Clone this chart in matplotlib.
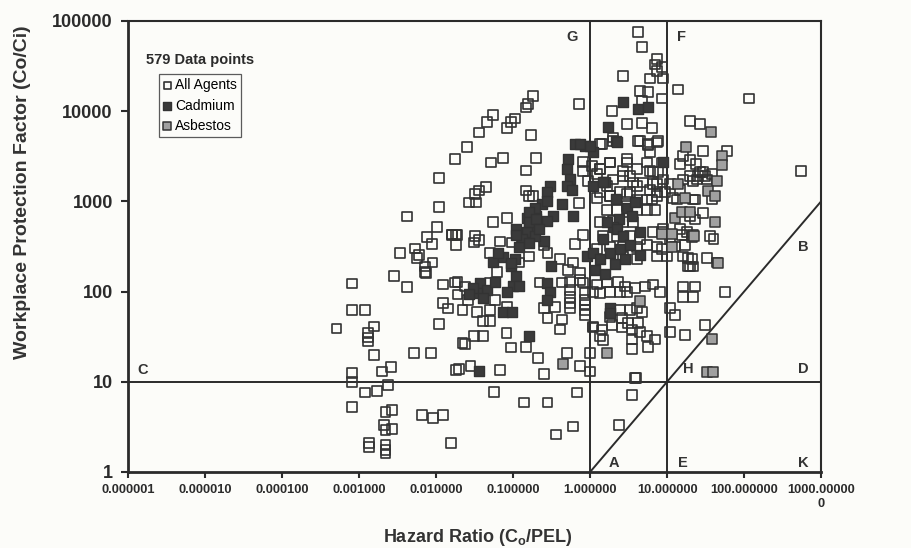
import matplotlib
matplotlib.use("Agg")
import matplotlib.pyplot as plt
from matplotlib.ticker import FixedLocator, FixedFormatter, NullLocator

plt.rcParams['font.family'] = ['Liberation Sans', 'DejaVu Sans']

# ---------------- data ----------------
all_x = [
    8.1e-4, 8.1e-4, 1.2e-3, 5.1e-4, 1.57e-3, 1.31e-3, 1.31e-3, 1.31e-3, 1.57e-3, 8.1e-4,
    8.1e-4, 2e-3, 2.6e-3, 2.4e-3, 1.2e-3, 1.7e-3, 8.1e-4, 2.2e-3, 2.7e-3, 2.1e-3,
    2.2e-3, 2.7e-3, 1.35e-3, 1.35e-3, 2.2e-3, 2.2e-3, 2.2e-3, 5.2e-3, 8.6e-3, 6.6e-3,
    9.2e-3, 1.23e-2, 1.55e-2, 2.85e-3, 4.2e-3, 7.4e-3, 1.23e-2, 1.78e-2, 1.23e-2, 1.42e-2,
    1.1e-2, 1.8e-2,
    1.78e-2, 1.1e-2, 1.1e-2, 4.2e-3, 1.03e-2, 7.6e-3, 8.9e-3, 1.6e-2, 1.8e-2, 1.8e-2,
    3.4e-3, 5.3e-3, 6.0e-3, 5.6e-3, 9e-3, 7.2e-3, 7.2e-3,
    0.182, 0.156, 0.148, 0.72, 0.055, 0.046, 0.036, 0.106, 0.094, 0.084,
    0.17, 0.025, 0.052, 0.074, 0.2, 0.148, 0.045, 0.036, 0.032, 0.027,
    0.033, 0.148, 0.055, 0.084, 0.016, 0.019, 0.032, 0.036, 0.031, 0.068,
    0.097, 0.16, 0.18, 0.28, 0.72, 0.81, 0.64, 0.81, 1.06, 0.8, 1.23,
    0.019, 0.024, 0.019, 0.026, 0.022, 0.034, 0.05, 0.041, 0.05, 0.058,
    0.083, 0.031, 0.041, 0.024, 0.082, 0.094, 0.148, 0.02, 0.028, 0.068,
    0.25, 0.21, 0.5, 0.74, 1.0, 1.0, 0.057, 0.68, 0.28, 0.43,
    0.41, 0.25, 0.35, 0.22, 0.43, 0.55, 0.55, 0.55, 0.55, 0.55,
    0.86, 0.86, 0.86, 0.86, 0.86, 0.81, 1.09, 1.09, 0.05, 0.062,
    0.05, 0.12, 0.16, 0.6, 0.52, 0.74, 0.74, 0.25, 0.28, 0.41,
    0.14, 0.28, 0.6, 0.36, 3.85, 3.5, 2.4, 0.022,
    4.2, 4.7, 7.4, 7.0, 8.6, 7.4, 8.9, 2.7, 6.0, 4.5,
    5.7, 8.6, 13.9, 116, 4.7, 1.93, 3.0, 4.7, 6.4, 19.9,
    26.8, 1.43, 1.99, 4.2, 5.7, 7.4, 29, 60, 16, 20,
    24, 29, 25, 550, 1.8, 3.0, 1.35, 5.5, 6.0, 7.6,
    8.9, 16, 21.7, 14.7, 33, 38, 2.7, 3.3, 4.1, 3.0,
    0.94, 1.23, 6.6, 7.4, 6.4, 1.66, 1.8, 2.2, 13.5, 21.7,
    9.4, 10.9, 20, 23, 29, 14.7, 18, 21, 36, 40,
    8.9, 10.9, 8.6, 10, 16, 21, 20,
    1.35, 2.0, 4.5, 5.7, 7.6, 6.0, 1.82, 3.0, 4.1, 6.6,
    8.6, 1.35, 2.0, 2.7, 3.6, 4.9, 6.0, 7.4, 1.35, 1.82,
    2.45, 3.3, 4.1, 5.5, 7.4, 1.66, 2.25, 3.0, 4.1, 5.5,
    7.0, 1.35, 2.0, 2.7, 3.6, 1.48, 2.25, 3.3, 4.5, 6.6,
    1.23, 1.82, 2.7, 4.1, 5.5, 7.4, 2.7, 4.1, 7.4,
    14.8, 20, 26.8, 24.5, 31, 38, 11.9, 23, 15.6, 21.7,
    17, 12.7, 18.7, 33, 45, 8.6,
    1.48, 1.35, 1.09, 1.43, 1.82, 1.93, 2.6, 3.5, 3.5, 3.5,
    4.5, 5.5, 5.7, 7.0, 4.2, 4.1, 4.7, 2.45, 3.3, 1.35,
    1.82, 2.45, 3.0, 1.23, 1.66, 2.3, 2.85, 3.8, 5.2, 6.6,
    8.1, 10.9, 12.7, 10.9, 17, 16, 23, 21.7, 16, 56,
    31, 18.7, 21.7, 3.95, 3.1, 2.6,
]
all_y = [
    123, 62, 62, 39, 41, 35, 31, 28, 20, 12.6,
    10, 13, 14.7, 9.3, 7.6, 7.9, 5.3, 4.6, 4.9, 3.3,
    2.9, 3.0, 2.1, 1.9, 2.0, 1.75, 1.6, 21, 21, 4.3,
    4.0, 4.3, 2.1, 150, 113, 162, 120, 126, 75, 65,
    44, 13.5,
    2950, 1800, 870, 680, 525, 400, 340, 430, 430, 330,
    270, 300, 257, 234, 210, 190, 166,
    14700, 12000, 11000, 12000, 9100, 7600, 5800, 8300, 7600, 6500,
    5500, 4000, 2700, 3000, 3000, 2200, 1440, 1320, 1200, 970,
    970, 1320, 590, 650, 420, 420, 410, 370, 350, 360,
    350, 1140, 1140, 1140, 950, 420, 340, 2750, 2450, 2150, 1100,
    129, 114, 93, 81, 63, 59, 63, 47, 47, 81,
    68, 32, 32, 26, 35, 24, 24.5, 14, 15, 13.5,
    12.3, 18.5, 21, 15, 13, 21, 7.7, 7.6, 51, 49,
    38, 66, 68, 126, 126, 129, 105, 87, 75, 66,
    97, 81, 72, 63, 55, 126, 100, 41, 270, 166,
    126, 210, 245, 210, 175, 162, 135, 330, 270, 228,
    5.9, 5.9, 3.2, 2.6, 11, 7.2, 3.3, 27,
    75000, 51000, 38000, 33000, 31000, 28000, 23000, 24500, 23000, 16600,
    16200, 13800, 17400, 13800, 12900, 10000, 7200, 7400, 6500, 7800,
    7200, 4300, 5100, 4700, 4200, 4500, 3600, 3600, 3200, 2900,
    2600, 2100, 1900, 2150, 2700, 2950, 2300, 2700, 2150, 2100,
    1750, 1750, 1670, 1350, 1750, 1050, 2150, 1900, 1470, 1200,
    1670, 2000, 1550, 1260, 1050, 1470, 1140, 1050, 1050, 1050,
    1260, 1550, 680, 630, 750, 490, 455, 400, 410, 380,
    490, 380, 295, 245, 245, 228, 190,
    4300, 4650, 4650, 4300, 4650, 3500, 2700, 2700, 2300, 2100,
    2700, 2300, 1750, 1900, 1620, 1620, 1350, 1550, 1260, 1140,
    1260, 1260, 1050, 1050, 1140, 810, 810, 880, 810, 810,
    810, 590, 600, 590, 590, 410, 410, 410, 380, 455,
    295, 316, 316, 310, 330, 316, 245, 228, 245,
    2600, 1900, 2100, 1750, 1900, 2000, 1100, 1050, 420, 420,
    330, 316, 237, 237, 210, 460,
    29, 32, 40, 38, 52, 43, 40, 38, 29.5, 23,
    36, 32, 24.5, 29.5, 45, 66, 59, 63, 63, 97,
    100, 100, 100, 120, 126, 129, 114, 110, 114, 120,
    100, 66, 55, 36, 33, 114, 114, 87, 87, 100,
    43, 190, 190, 11, 45, 51,
]

cad_x = [
    0.52, 0.5, 0.64, 0.86, 1.09, 0.55, 0.5, 0.58, 0.3, 0.28,
    0.43, 0.6, 0.33, 0.28, 0.2, 0.2, 0.16, 0.15, 0.11, 0.15,
    0.13, 0.25, 0.19, 0.24,
    0.055, 0.074, 0.094, 0.11, 0.1, 0.083, 0.037, 0.046, 0.034, 0.058,
    0.106, 0.064, 0.12, 0.16, 0.12, 0.074, 0.097, 0.03, 0.16, 0.036,
    0.31, 0.28, 0.3, 0.28, 0.91, 1.1,
    2.7, 4.2, 5.7, 1.7, 2.2, 0.74, 1.0, 8.9, 0.19, 0.28,
    1.57, 2.2, 3.0, 3.8, 2.4, 3.5, 2.0, 0.16, 0.16, 0.2,
    0.22, 0.11, 0.094,
    2.25, 1.09, 1.48, 1.66, 2.25, 1.48, 2.7, 1.82, 2.45, 1.35,
    4.5, 3.3, 1.16, 1.57, 2.1, 2.85, 4.5, 1.82, 1.82, 0.027, 0.041,
]
cad_y = [
    2950, 2300, 4300, 4100, 3500, 1750, 1470, 1350, 1470, 1260,
    930, 680, 680, 600, 680, 550, 490, 660, 490, 455,
    380, 360, 410, 930,
    215, 240, 190, 147, 114, 100, 126, 105, 97, 129,
    228, 270, 315, 350, 114, 60, 60, 110, 32, 13.2,
    190, 126, 100, 81, 245, 270,
    12600, 10500, 11000, 6600, 4700, 4300, 4100, 2700, 850, 1000,
    1620, 1050, 850, 980, 630, 680, 525, 760, 590, 630,
    490, 420, 210,
    4500, 1470, 1620, 590, 490, 380, 410, 270, 295, 228,
    460, 330, 175, 155, 200, 228, 255, 66, 58, 95, 85,
]

asb_x = [37, 17.6, 52, 52, 13.9, 45, 34, 17, 12.7, 15.6,
         22.5, 42, 11.6, 46, 0.45, 38, 33, 40, 1.66, 4.5,
         8.6, 11.6, 20, 42]
asb_y = [5900, 4000, 3200, 2500, 1550, 1670, 1290, 1080, 660, 760,
         410, 590, 310, 210, 15.8, 29.5, 13, 13, 21, 78,
         430, 440, 770, 1140]

x_ticks = [1e-6, 1e-5, 1e-4, 1e-3, 1e-2, 1e-1, 1, 10, 100, 1000]
x_tick_labels = ["0.000001", "0.000010", "0.000100", "0.001000", "0.010000",
                 "0.100000", "1.000000", "10.000000", "100.000000", "1000.00000\n0"]
y_ticks = [1, 10, 100, 1000, 10000, 100000]
y_tick_labels = ["1", "10", "100", "1000", "10000", "100000"]

region_labels = ["C", "G", "F", "B", "D", "H", "A", "E", "K"]
region_x = [1.57e-6, 0.58, 15.6, 585, 585, 18.7, 2.05, 16, 585]
region_y = [13.5, 66000, 66000, 310, 14, 14, 1.26, 1.26, 1.26]

# ---------------- figure ----------------
bg = '#fcfcf9'
ink = '#2b2b2b'
fig = plt.figure(figsize=(9.12, 5.48), dpi=100, facecolor=bg)
ax = fig.add_axes([0.1404, 0.1387, 0.7599, 0.8230], facecolor=bg)
ax.set_xscale('log')
ax.set_yscale('log')
ax.set_xlim(1e-6, 1000)
ax.set_ylim(1, 100000)

# reference lines
ax.axvline(1, color=ink, lw=1.4, zorder=1)
ax.axvline(10, color=ink, lw=1.4, zorder=1)
ax.axhline(10, color=ink, lw=1.4, zorder=1)
ax.plot([1, 1000], [1, 1000], color=ink, lw=1.4, zorder=1)

ms = 50
h_all = ax.scatter(all_x, all_y, s=ms, marker='s', facecolors='none',
                   edgecolors='#333333', linewidths=1.2, zorder=3, label='All Agents')
h_cad = ax.scatter(cad_x, cad_y, s=ms, marker='s', facecolors='#3a3a3a',
                   edgecolors='#333333', linewidths=1.0, zorder=4, label='Cadmium')
h_asb = ax.scatter(asb_x, asb_y, s=ms, marker='s', facecolors='#a0a0a0',
                   edgecolors='#333333', linewidths=1.1, zorder=5, label='Asbestos')

for t, xx, yy in zip(region_labels, region_x, region_y):
    ax.text(xx, yy, t, fontsize=10.5, fontweight='bold', color='#333333',
            ha='center', va='center', zorder=6)

# axes styling
ax.xaxis.set_major_locator(FixedLocator(x_ticks))
ax.xaxis.set_major_formatter(FixedFormatter(x_tick_labels))
ax.xaxis.set_minor_locator(NullLocator())
ax.yaxis.set_major_locator(FixedLocator(y_ticks))
ax.yaxis.set_major_formatter(FixedFormatter(y_tick_labels))
ax.yaxis.set_minor_locator(NullLocator())
ax.tick_params(axis='x', direction='out', length=4, width=1.5, pad=5,
               labelsize=9.3, colors='#2b2b2b')
ax.tick_params(axis='y', direction='out', length=5, width=1.5, pad=6,
               labelsize=13, colors='#2b2b2b')
for lab in ax.get_xticklabels() + ax.get_yticklabels():
    lab.set_fontweight('bold')
for side, lw in [('left', 2.0), ('bottom', 2.0), ('top', 1.5), ('right', 1.5)]:
    ax.spines[side].set_linewidth(lw)
    ax.spines[side].set_color(ink)

ax.set_xlabel('Hazard Ratio (C$_\\mathregular{o}$/PEL)', fontsize=13,
              fontweight='bold', color='#333333')
ax.xaxis.set_label_coords(0.505, -0.122)
ax.set_ylabel('Workplace Protection Factor (Co/Ci)', fontsize=14,
              fontweight='bold', color='#333333')
ax.yaxis.set_label_coords(-0.14, 0.62)

ax.text(0.026, 0.913, '579 Data points', transform=ax.transAxes, fontsize=10.5,
        fontweight='bold', color='#2b2b2b', ha='left', va='center')
leg = ax.legend(handles=[h_all, h_cad, h_asb], loc='upper left',
                bbox_to_anchor=(0.0447, 0.882), borderaxespad=0, borderpad=0.3,
                handlelength=0.6, handletextpad=0.25, labelspacing=0.45,
                fontsize=10, frameon=True, fancybox=False, markerscale=0.75)
leg.get_frame().set_edgecolor('#333333')
leg.get_frame().set_linewidth(0.9)
leg.get_frame().set_facecolor(bg)

fig.savefig('out.png', dpi=100, facecolor=bg)
